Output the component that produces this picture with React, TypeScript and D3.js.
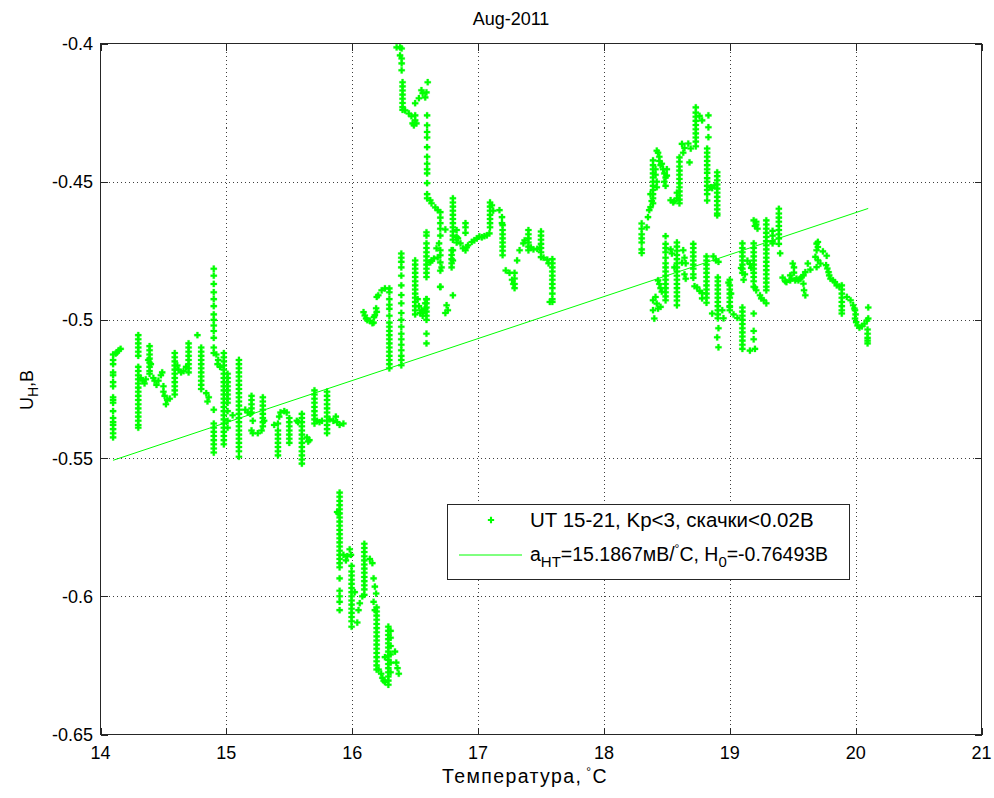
import React from 'react';
import * as d3 from 'd3';

// ---- axis ticks ----
const xTicks = [14, 15, 16, 17, 18, 19, 20, 21];
const xTickLabels = ['14', '15', '16', '17', '18', '19', '20', '21'];
const yTicks = [-0.4, -0.45, -0.5, -0.55, -0.6, -0.65];
const yTickLabels = ['-0.4', '-0.45', '-0.5', '-0.55', '-0.6', '-0.65'];

// ---- linear fit (legend parameters) ----
const fitSlope = 0.0151867; // V per °C
const fitIntercept = -0.76493; // V
const fitRange = [14.1, 20.1];

const titleText = 'Aug-2011';
const legendDots = 'UT 15-21, Kp<3, скачки<0.02В';

// ---- data: vertical stripes [temperature, list of U] and single points [temperature, U] ----
const lowCols: [number, number[]][] = [
  [14.10, [-0.5125, -0.5145, -0.516, -0.519, -0.520, -0.5225, -0.524, -0.528, -0.529, -0.530, -0.533, -0.5355, -0.537, -0.538, -0.5395, -0.541, -0.5425]],
  [14.30, [-0.5055, -0.507, -0.5085, -0.510, -0.5115, -0.513, -0.517, -0.5185, -0.520, -0.5215, -0.523, -0.5245, -0.526, -0.5275, -0.529, -0.5305, -0.532, -0.5335, -0.535, -0.5365, -0.538, -0.539]],
  [14.39, [-0.5095, -0.511, -0.5125, -0.514, -0.5155, -0.517, -0.5185, -0.5195]],
  [14.59, [-0.512, -0.5135, -0.515, -0.5165, -0.518, -0.5195, -0.521, -0.5225, -0.524, -0.5255, -0.527]],
  [14.70, [-0.5085, -0.510, -0.5115, -0.513, -0.5145, -0.516, -0.5175, -0.519]],
  [14.80, [-0.510, -0.5115, -0.513, -0.5145, -0.516, -0.5175, -0.519, -0.5205, -0.522, -0.5235, -0.525]],
  [14.90, [-0.4815, -0.484, -0.487, -0.490, -0.4925, -0.495, -0.498, -0.500, -0.502, -0.504, -0.5065, -0.510, -0.512, -0.5325, -0.5375, -0.539, -0.5405, -0.542, -0.5435, -0.545, -0.5465, -0.548]],
  [14.98, [-0.512, -0.5135, -0.515, -0.5165, -0.518, -0.5195, -0.521, -0.5225, -0.524, -0.5255, -0.527, -0.5285, -0.530, -0.5315, -0.533, -0.5345, -0.536, -0.5375, -0.539, -0.5405, -0.542, -0.5435, -0.545]],
  [15.01, [-0.5195, -0.521, -0.5225, -0.524, -0.5255, -0.527, -0.5285, -0.530, -0.533, -0.5365, -0.539]],
  [15.10, [-0.5145, -0.516, -0.5175, -0.519, -0.5205, -0.522, -0.5235, -0.525, -0.5265, -0.528, -0.5295, -0.531, -0.5325, -0.534, -0.5355, -0.537, -0.5385, -0.540, -0.5415, -0.543, -0.5445, -0.546, -0.5475, -0.5495]],
  [15.20, [-0.5275, -0.529, -0.5305, -0.532, -0.5335]],
  [15.29, [-0.528, -0.5295, -0.531, -0.5325, -0.534, -0.5355, -0.537, -0.5385]],
  [15.41, [-0.540, -0.5415, -0.543, -0.5445, -0.546, -0.5475, -0.549]],
  [15.50, [-0.5355, -0.537, -0.5385, -0.540, -0.5415, -0.543, -0.5445]],
  [15.60, [-0.534, -0.5355, -0.537, -0.5385, -0.540, -0.5415, -0.543, -0.5445, -0.546, -0.5475, -0.549, -0.5505, -0.552]],
  [15.70, [-0.5255, -0.527, -0.5285, -0.530, -0.5315, -0.533, -0.5345, -0.536, -0.5375]],
  [15.80, [-0.526, -0.5275, -0.529, -0.5305, -0.532, -0.5335, -0.535, -0.5365, -0.538, -0.5395, -0.541]],
];
const lowPts: [number, number][] = [
  [14.12, -0.5122], [14.13, -0.5118], [14.145, -0.511], [14.16, -0.5105],
  [14.32, -0.521], [14.335, -0.522], [14.35, -0.523], [14.36, -0.5215],
  [14.38, -0.5145], [14.40, -0.516],
  [14.42, -0.521], [14.43, -0.522], [14.445, -0.5235], [14.46, -0.522], [14.48, -0.520], [14.49, -0.519], [14.50, -0.524], [14.50, -0.526], [14.51, -0.5275], [14.53, -0.529], [14.55, -0.5285], [14.52, -0.5305],
  [14.61, -0.5165], [14.62, -0.518], [14.64, -0.519], [14.66, -0.5185], [14.68, -0.517],
  [14.77, -0.5055],
  [14.84, -0.5265], [14.86, -0.528], [14.85, -0.5295],
  [14.92, -0.5125], [14.935, -0.5145], [14.93, -0.516], [14.95, -0.517],
  [15.05, -0.5345],
  [15.15, -0.5325], [15.17, -0.5335], [15.19, -0.534],
  [15.21, -0.5365], [15.20, -0.540], [15.21, -0.541], [15.25, -0.541], [15.28, -0.540], [15.30, -0.5365],
  [15.38, -0.538], [15.41, -0.5375], [15.43, -0.5335], [15.46, -0.533], [15.48, -0.5335], [15.42, -0.535],
  [15.56, -0.5365], [15.57, -0.537], [15.64, -0.5425], [15.65, -0.544], [15.66, -0.5435],
  [15.72, -0.5365], [15.74, -0.537], [15.76, -0.5365],
  [15.82, -0.536], [15.85, -0.5365], [15.87, -0.535], [15.88, -0.537], [15.90, -0.538], [15.93, -0.5375],
];

const dropCols: [number, number[]][] = [
  [15.90, [-0.5625, -0.564, -0.5655, -0.567, -0.5685, -0.570, -0.5715, -0.573, -0.5745, -0.576, -0.5775, -0.579, -0.5805, -0.582, -0.5835, -0.585, -0.5865, -0.588, -0.5895, -0.5935, -0.598, -0.600, -0.602, -0.605]],
  [15.995, [-0.589, -0.591, -0.5925, -0.594, -0.5955, -0.597, -0.5985, -0.600, -0.6015, -0.603, -0.6045, -0.606, -0.6075, -0.609, -0.611]],
  [16.096, [-0.581, -0.5825, -0.584, -0.5855, -0.587, -0.5885, -0.590, -0.5915, -0.593, -0.5945, -0.596, -0.5975, -0.5995]],
  [16.194, [-0.604, -0.6055, -0.607, -0.6085, -0.610, -0.6115, -0.613, -0.6145, -0.616, -0.6175, -0.619, -0.6205, -0.622, -0.6235, -0.625, -0.6265]],
  [16.287, [-0.611, -0.6125, -0.614, -0.6155, -0.617, -0.6185, -0.620, -0.6215, -0.623, -0.6245, -0.626, -0.6275, -0.629, -0.6305, -0.632]],
  [16.305, [-0.6125, -0.615, -0.618, -0.621, -0.624, -0.6275]],
];
const dropPts: [number, number][] = [
  [15.88, -0.5695], [15.89, -0.570], [15.93, -0.585], [15.96, -0.5855], [15.95, -0.587], [15.98, -0.583], [15.99, -0.585],
  [16.02, -0.5985], [16.04, -0.6095], [16.06, -0.6025], [16.05, -0.605], [16.08, -0.600],
  [16.14, -0.5865], [16.16, -0.588], [16.17, -0.5935], [16.18, -0.5965], [16.19, -0.599], [16.17, -0.602], [16.18, -0.605],
  [16.21, -0.6265], [16.23, -0.628], [16.24, -0.6295], [16.25, -0.6305], [16.26, -0.631], [16.26, -0.622],
  [16.34, -0.620], [16.35, -0.624], [16.36, -0.626], [16.37, -0.628],
];

const midCols: [number, number[]][] = [
  [16.40, [-0.414, -0.4155, -0.417, -0.4185, -0.420, -0.4215, -0.423, -0.424]],
  [16.595, [-0.426, -0.4296, -0.432, -0.434, -0.4375, -0.441, -0.4435, -0.4455, -0.447, -0.4505, -0.4545, -0.456]],
  [16.70, [-0.461, -0.463, -0.465, -0.467, -0.4695, -0.4748, -0.4766, -0.4822, -0.488]],
  [16.80, [-0.456, -0.4575, -0.459, -0.4605, -0.462, -0.4635, -0.465, -0.4665, -0.468, -0.4695, -0.471, -0.4748, -0.4785, -0.4911]],
  [16.83, [-0.4675, -0.470, -0.472]],
  [16.90, [-0.465, -0.4665, -0.4685]],
  [17.095, [-0.4575, -0.459, -0.4605, -0.462, -0.4635, -0.465, -0.4665]],
  [17.195, [-0.4657, -0.4675, -0.469, -0.4705, -0.472, -0.4735, -0.475, -0.4766]],
  [17.29, [-0.483, -0.485, -0.487, -0.4885]],
  [17.40, [-0.4675, -0.469, -0.4705, -0.472, -0.4735, -0.4748]],
  [17.50, [-0.468, -0.4695, -0.471, -0.4725, -0.474, -0.4755, -0.4773]],
  [17.59, [-0.478, -0.4795, -0.481, -0.4825, -0.484, -0.4855, -0.487, -0.4885, -0.4905, -0.4925, -0.4935]],
  [16.295, [-0.4886, -0.490, -0.4925, -0.4945, -0.496, -0.4985, -0.501, -0.5025, -0.504, -0.5055, -0.507, -0.5085, -0.510, -0.5115, -0.513, -0.5145, -0.516, -0.5175]],
  [16.39, [-0.476, -0.4775, -0.479, -0.481, -0.484, -0.4875, -0.491, -0.494, -0.4975, -0.500, -0.5025, -0.505, -0.507, -0.509, -0.511, -0.513, -0.5145, -0.5164]],
  [16.50, [-0.4785, -0.480, -0.4815, -0.483, -0.4845, -0.486, -0.4875, -0.489, -0.4905, -0.492, -0.4935, -0.495, -0.4965, -0.498]],
  [16.59, [-0.4683, -0.4695, -0.4723, -0.474, -0.4755, -0.477, -0.4785, -0.480, -0.4815, -0.483, -0.4845, -0.4925, -0.494, -0.4955, -0.497, -0.4985, -0.500, -0.505, -0.5085]],
  [16.79, [-0.4748, -0.4765, -0.478, -0.4795, -0.481]],
];
const midPts: [number, number][] = [
  [16.353, -0.4014], [16.38, -0.4014], [16.393, -0.4018], [16.38, -0.4043], [16.393, -0.4054], [16.393, -0.4072], [16.393, -0.4097],
  [16.42, -0.4242], [16.45, -0.4253], [16.47, -0.4263], [16.48, -0.4289], [16.49, -0.4296], [16.50, -0.4278], [16.50, -0.426], [16.51, -0.4289],
  [16.50, -0.4216], [16.53, -0.4198], [16.55, -0.4169], [16.56, -0.418], [16.58, -0.4195], [16.59, -0.4177], [16.60, -0.414],
  [16.62, -0.4567], [16.63, -0.4578], [16.66, -0.4593], [16.68, -0.4603],
  [16.74, -0.4673], [16.76, -0.4965],
  [16.84, -0.4705], [16.86, -0.4723], [16.88, -0.4741], [16.90, -0.4748], [16.91, -0.4737], [16.92, -0.473],
  [16.95, -0.4718], [16.97, -0.4712], [16.99, -0.4705], [17.01, -0.4698], [17.03, -0.4701], [17.05, -0.4697], [17.07, -0.4694], [17.09, -0.4687],
  [17.11, -0.4585], [17.12, -0.4605], [17.17, -0.4603], [17.19, -0.4628], [17.19, -0.465],
  [17.22, -0.4821], [17.25, -0.483], [17.27, -0.4855], [17.28, -0.487],
  [17.31, -0.4785], [17.33, -0.4748], [17.36, -0.4723], [17.37, -0.4712],
  [17.42, -0.4738], [17.44, -0.4745], [17.47, -0.4743], [17.49, -0.474],
  [17.52, -0.4775], [17.55, -0.4782], [17.56, -0.4795], [17.57, -0.4935],
  [16.09, -0.4972], [16.10, -0.4984], [16.11, -0.4995], [16.12, -0.5001], [16.14, -0.5003], [16.16, -0.5012], [16.17, -0.501],
  [16.195, -0.4917], [16.207, -0.4911], [16.234, -0.4893], [16.26, -0.4886], [16.19, -0.4958], [16.195, -0.4971], [16.18, -0.4983], [16.173, -0.499],
  [16.52, -0.4925], [16.53, -0.495], [16.55, -0.4965], [16.56, -0.4975], [16.58, -0.496], [16.58, -0.494], [16.59, -0.4925], [16.56, -0.4985], [16.54, -0.4975],
  [16.62, -0.4792], [16.63, -0.4785], [16.65, -0.4778], [16.67, -0.4741], [16.68, -0.4774], [16.70, -0.4792], [16.71, -0.481], [16.69, -0.4723], [16.70, -0.4881], [16.75, -0.4947], [16.74, -0.4975],
];

const rightCols: [number, number[]][] = [
  [18.30, [-0.4651, -0.467, -0.469, -0.4705, -0.472, -0.4745, -0.4758]],
  [18.39, [-0.4423, -0.444, -0.4455, -0.447, -0.4485, -0.450, -0.4515, -0.453, -0.4545, -0.456, -0.4578]],
  [18.60, [-0.4412, -0.4428, -0.4445, -0.446, -0.4475, -0.449, -0.4505, -0.452, -0.4535, -0.455, -0.4565, -0.4578]],
  [18.73, [-0.4231, -0.425, -0.4265, -0.428, -0.4295, -0.431, -0.4325, -0.434, -0.4355, -0.4372]],
  [18.82, [-0.438, -0.4395, -0.441, -0.4425, -0.444, -0.4455, -0.4468, -0.4487, -0.450, -0.4515, -0.453, -0.4545, -0.4568]],
  [18.90, [-0.4466, -0.448, -0.4495, -0.451, -0.4525, -0.454, -0.4555, -0.457, -0.4585, -0.460, -0.4615, -0.4622]],
  [18.49, [-0.4697, -0.4725, -0.474, -0.4755, -0.4775, -0.4795, -0.481, -0.4825, -0.484, -0.4855, -0.487, -0.4885, -0.490, -0.4915, -0.4929]],
  [18.58, [-0.472, -0.4735, -0.475, -0.4765, -0.478, -0.4795, -0.481, -0.4825, -0.484, -0.4855, -0.487, -0.4885, -0.490, -0.4915, -0.493, -0.4947]],
  [18.71, [-0.4725, -0.474, -0.4755, -0.477, -0.4785, -0.480, -0.4815, -0.4835, -0.4848]],
  [18.815, [-0.477, -0.4785, -0.480, -0.4815, -0.483, -0.4845, -0.486, -0.4875, -0.489, -0.4905, -0.492, -0.4938]],
  [18.905, [-0.4846, -0.486, -0.4875, -0.489, -0.4905, -0.492, -0.4935, -0.495, -0.4965, -0.498, -0.4994]],
  [19.00, [-0.4855, -0.4875, -0.489, -0.4905, -0.492, -0.4935, -0.495, -0.4965]],
  [19.10, [-0.4723, -0.474, -0.4755, -0.477, -0.4785, -0.480, -0.4815, -0.483, -0.4955, -0.497, -0.4985, -0.500, -0.5015, -0.503, -0.5045, -0.506, -0.5075, -0.509, -0.5105]],
  [19.19, [-0.4723, -0.474, -0.4755, -0.477, -0.4785, -0.480, -0.4815, -0.483, -0.4845, -0.486, -0.488]],
  [19.29, [-0.464, -0.4655, -0.467, -0.4685, -0.470, -0.4715, -0.473, -0.4745, -0.476, -0.4775, -0.479, -0.4805, -0.482, -0.4835, -0.485, -0.4865, -0.488, -0.4893]],
  [19.34, [-0.4678, -0.4695, -0.4715, -0.4723]],
  [19.39, [-0.4598, -0.4615, -0.463, -0.4645, -0.466, -0.4675, -0.469, -0.4705, -0.4725]],
  [19.89, [-0.4875, -0.489, -0.4905, -0.492, -0.4935, -0.495, -0.4965, -0.4977]],
  [20.095, [-0.5035, -0.505, -0.5065, -0.5075, -0.5085]],
];
const rightPts: [number, number][] = [
  [18.34, -0.4665], [18.35, -0.4628], [18.36, -0.4603], [18.37, -0.4592], [18.37, -0.4545], [18.38, -0.457],
  [18.42, -0.4388], [18.43, -0.4395], [18.44, -0.441], [18.44, -0.4425], [18.45, -0.444],
  [18.46, -0.4435], [18.47, -0.4455], [18.48, -0.447], [18.49, -0.4485], [18.48, -0.450], [18.49, -0.4515], [18.50, -0.4478], [18.50, -0.4455],
  [18.41, -0.4455], [18.41, -0.4475], [18.42, -0.450], [18.42, -0.452],
  [18.53, -0.4567], [18.55, -0.4575], [18.56, -0.457], [18.58, -0.454], [18.58, -0.456],
  [18.62, -0.4363], [18.64, -0.4378], [18.63, -0.4395], [18.67, -0.4362], [18.69, -0.438], [18.68, -0.443],
  [18.76, -0.4262], [18.78, -0.4278], [18.83, -0.426], [18.83, -0.4303], [18.83, -0.4339],
  [18.85, -0.452], [18.86, -0.4523], [18.88, -0.4513],
  [18.41, -0.4917], [18.39, -0.4929], [18.42, -0.4941], [18.39, -0.4965], [18.43, -0.4959], [18.45, -0.4953], [18.40, -0.4995],
  [18.43, -0.4857], [18.44, -0.487], [18.45, -0.4885], [18.46, -0.4898],
  [18.53, -0.4745], [18.54, -0.476], [18.56, -0.481],
  [18.62, -0.4793], [18.63, -0.4748], [18.64, -0.4775], [18.65, -0.4795], [18.64, -0.4835], [18.65, -0.4851],
  [18.72, -0.4878], [18.74, -0.4882], [18.76, -0.4895], [18.78, -0.4903], [18.78, -0.4922],
  [18.86, -0.4977], [18.87, -0.477], [18.89, -0.4785], [18.91, -0.479],
  [18.91, -0.503], [18.90, -0.5063], [18.91, -0.5099], [18.94, -0.4965], [18.95, -0.4994],
  [18.99, -0.4865], [19.01, -0.4905], [19.00, -0.4953],
  [19.09, -0.4812], [19.11, -0.4855], [19.12, -0.4835], [19.03, -0.498], [19.06, -0.4993],
  [19.19, -0.464], [19.20, -0.466], [19.21, -0.4655],
  [19.19, -0.4977], [19.19, -0.504], [19.19, -0.507], [19.20, -0.5105], [19.16, -0.5111],
  [19.14, -0.4786], [19.16, -0.4798], [19.17, -0.4812],
  [19.20, -0.4882], [19.21, -0.4893], [19.24, -0.4911], [19.25, -0.4922], [19.27, -0.4929], [19.29, -0.494],
  [19.21, -0.4645], [19.22, -0.467], [19.40, -0.4759],
  [19.42, -0.4847], [19.44, -0.486], [19.45, -0.4863],
  [19.48, -0.4857], [19.49, -0.485], [19.50, -0.4796], [19.51, -0.481], [19.51, -0.4829], [19.52, -0.4857], [19.48, -0.4839],
  [19.53, -0.4851], [19.545, -0.4857], [19.56, -0.4851], [19.57, -0.4845], [19.585, -0.4839], [19.60, -0.4827], [19.585, -0.4869], [19.59, -0.4893], [19.60, -0.4911],
  [19.62, -0.4796], [19.64, -0.4818],
  [19.69, -0.4724], [19.70, -0.4718], [19.70, -0.4736], [19.69, -0.4748], [19.68, -0.4772], [19.70, -0.4784], [19.72, -0.4796], [19.69, -0.4809],
  [19.74, -0.4752], [19.77, -0.4768],
  [19.765, -0.4802], [19.775, -0.4814], [19.785, -0.4827], [19.79, -0.4839], [19.80, -0.4851], [19.82, -0.4857], [19.835, -0.4863], [19.85, -0.4875], [19.87, -0.4879],
  [19.93, -0.4917], [19.96, -0.4929], [19.98, -0.4947], [19.99, -0.4959],
  [19.995, -0.4995], [20.004, -0.5008], [20.015, -0.502], [20.03, -0.5028], [20.05, -0.5023], [20.07, -0.5014], [20.09, -0.5002], [20.10, -0.4995],
  [19.995, -0.4965], [20.00, -0.498], [20.10, -0.4955],
];

const FONT = '"Liberation Sans", Arial, Helvetica, sans-serif';
const GREEN = '#00ff00';

export default function App() {
  const W = 994;
  const H = 798;
  const L = 100.5, R = 981.5, T = 43.5, B = 734.5;
  const x = d3.scaleLinear().domain([14, 21]).range([L, R]);
  const y = d3.scaleLinear().domain([-0.65, -0.4]).range([B, T]);

  const allPts: [number, number][] = [];
  for (const cols of [lowCols, dropCols, midCols, rightCols]) {
    for (const [t, us] of cols) for (const u of us) allPts.push([t, u]);
  }
  for (const p of [lowPts, dropPts, midPts, rightPts]) allPts.push(...p);

  const marker = d3.symbol(d3.symbolCross, 22)() as string;
  const fitLine = d3.line<number>().x((t) => x(t)).y((t) => y(fitIntercept + fitSlope * t));

  const tickLen = 7;
  const fs = 18;

  return (
    <svg width={W} height={H} style={{ position: 'absolute', left: 0, top: 0, background: '#fff' }} fontFamily={FONT}>
      <rect x={0} y={0} width={W} height={H} fill="#fff" />
      {/* grid */}
      <g stroke="#000" strokeWidth={1} strokeDasharray="1,3" shapeRendering="crispEdges" opacity={0.75}>
        {xTicks.slice(1, -1).map((t) => (
          <line key={'gx' + t} x1={Math.round(x(t)) + 0.5} x2={Math.round(x(t)) + 0.5} y1={T} y2={B} />
        ))}
        {yTicks.slice(1, -1).map((t) => (
          <line key={'gy' + t} x1={L} x2={R} y1={Math.round(y(t)) + 0.5} y2={Math.round(y(t)) + 0.5} />
        ))}
      </g>
      {/* data */}
      <g fill={GREEN} stroke={GREEN} strokeWidth={0.4} strokeOpacity={0.6}>
        {allPts.map(([t, u], i) => (
          <path key={i} d={marker} transform={`translate(${x(t)},${y(u)})`} />
        ))}
      </g>
      <path d={fitLine(fitRange) || ''} stroke={GREEN} strokeWidth={1} fill="none" />
      {/* box and ticks */}
      <g stroke="#262626" strokeWidth={1} shapeRendering="crispEdges">
        <rect x={L} y={T} width={R - L} height={B - T} fill="none" />
        {xTicks.map((t) => (
          <g key={'tx' + t}>
            <line x1={Math.round(x(t)) + 0.5} x2={Math.round(x(t)) + 0.5} y1={B} y2={B - tickLen} />
            <line x1={Math.round(x(t)) + 0.5} x2={Math.round(x(t)) + 0.5} y1={T} y2={T + tickLen} />
          </g>
        ))}
        {yTicks.map((t) => (
          <g key={'ty' + t}>
            <line x1={L} x2={L + tickLen} y1={Math.round(y(t)) + 0.5} y2={Math.round(y(t)) + 0.5} />
            <line x1={R} x2={R - tickLen} y1={Math.round(y(t)) + 0.5} y2={Math.round(y(t)) + 0.5} />
          </g>
        ))}
      </g>
      {/* tick labels */}
      <g fontSize={fs} fill="#000">
        {xTicks.map((t, i) => (
          <text key={'lx' + t} x={x(t)} y={759} textAnchor="middle">{xTickLabels[i]}</text>
        ))}
        {yTicks.map((t, i) => (
          <text key={'ly' + t} x={93} y={y(t) + 6.5} textAnchor="end">{yTickLabels[i]}</text>
        ))}
      </g>
      {/* title and axis labels */}
      <text x={511} y={25} textAnchor="middle" fontSize={fs}>{titleText}</text>
      <text x={525} y={783} textAnchor="middle" fontSize={19.5} letterSpacing={1.4}>
        Температура,
        <tspan dx={4} dy={-7} fontSize={12}>°</tspan>
        <tspan dy={7}>C</tspan>
      </text>
      <text transform="translate(33,390) rotate(-90)" textAnchor="middle" fontSize={fs}>
        U<tspan dy={5} fontSize={14}>H</tspan><tspan dy={-5}>,В</tspan>
      </text>
      {/* legend */}
      <g>
        <rect x={447.5} y={504.5} width={402} height={75} fill="#fff" stroke="#262626" strokeWidth={1} shapeRendering="crispEdges" />
        <path d={marker} fill={GREEN} transform="translate(491,520)" />
        <text x={530} y={527} fontSize={20.5}>{legendDots}</text>
        <line x1={459} x2={522} y1={555} y2={555} stroke={GREEN} strokeWidth={1} />
        <text x={530} y={561} fontSize={19.5}>
          a<tspan dy={6} fontSize={15}>HT</tspan>
          <tspan dy={-6}>=15.1867мВ/</tspan>
          <tspan dy={-8} fontSize={12}>°</tspan>
          <tspan dy={8}>C, H</tspan>
          <tspan dy={6} fontSize={15}>0</tspan>
          <tspan dy={-6}>=-0.76493В</tspan>
        </text>
      </g>
    </svg>
  );
}
